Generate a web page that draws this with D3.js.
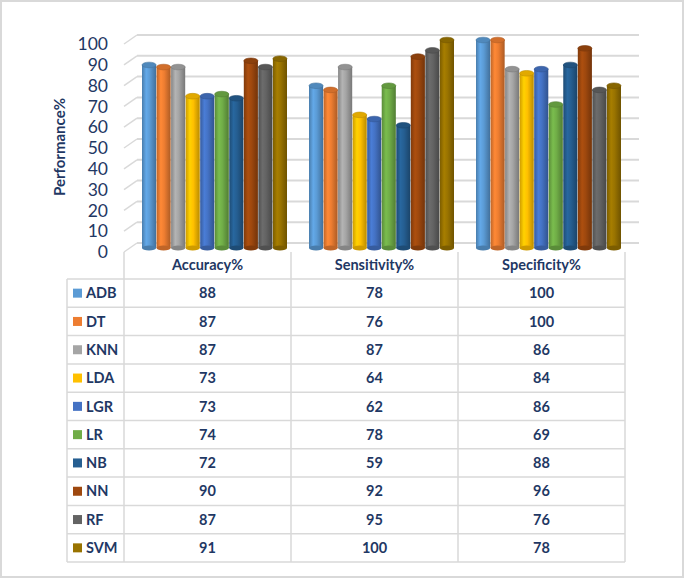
<!DOCTYPE html>
<html>
<head>
<meta charset="utf-8">
<script src="https://cdnjs.cloudflare.com/ajax/libs/d3/7.8.5/d3.min.js"></script>
<style>
    body { margin: 0; background: #fff; }
    text { font-family: Lato, "Open Sans", sans-serif; }
</style>
</head>
<body>
<div id="chart-area"></div>
<script>

var models = ["ADB", "DT", "KNN", "LDA", "LGR", "LR", "NB", "NN", "RF", "SVM"];
var metrics = ["Accuracy%", "Sensitivity%", "Specificity%"];
var accuracy = [88, 87, 87, 73, 73, 74, 72, 90, 87, 91];
var sensitivity = [78, 76, 87, 64, 62, 78, 59, 92, 95, 100];
var specificity = [100, 100, 86, 84, 86, 69, 88, 96, 76, 78];
var modelColors = ["#5B9BD5", "#ED7D31", "#A5A5A5", "#FFC000", "#4472C4",
                   "#70AD47", "#255E91", "#9E480E", "#636363", "#997300"];
var yTicks = [0, 10, 20, 30, 40, 50, 60, 70, 80, 90, 100];


PerfChart = function(_parentElement) {
    this.parentElement = _parentElement;
    this.initVis();
};

PerfChart.prototype.initVis = function() {
    var vis = this;

    vis.width = 685;
    vis.height = 579;
    vis.navy = "#1F3864";
    vis.lineColor = "#D9D9D9";

    vis.svg = d3.select("#" + vis.parentElement).append("svg")
        .attr("width", vis.width)
        .attr("height", vis.height);

    // outer frame
    vis.svg.append("rect")
        .attr("x", 1).attr("y", 1)
        .attr("width", vis.width - 3).attr("height", vis.height - 3)
        .attr("fill", "#fff")
        .attr("stroke", "#D9D9D9")
        .attr("stroke-width", 2);

    // category columns (shared by bars + table)
    vis.x0 = d3.scaleBand().domain(metrics).range([124, 625]);
    vis.x1 = d3.scaleBand().domain(models).range([18, 163]).paddingInner(0.03);

    // 3D depth: front/back of the wall, bars sit in the middle
    vis.depthX = 13;
    vis.depthY = 9;
    vis.yFront = d3.scaleLinear().domain([0, 100]).range([252, 44]);
    vis.yBack = d3.scaleLinear().domain([0, 100]).range([243, 35]);
    vis.y = d3.scaleLinear().domain([0, 100]).range([248, 40]);

    vis.rowY = d3.scaleBand().domain(models).range([279, 562]);

    vis.updateVis();
};

PerfChart.prototype.updateVis = function() {
    var vis = this;

    var values = [accuracy, sensitivity, specificity];

    // gradients for the cylinders
    var defs = vis.svg.append("defs");
    modelColors.forEach(function(c, i) {
        var g = defs.append("linearGradient")
            .attr("id", "cyl" + i)
            .attr("x1", "0%").attr("x2", "100%")
            .attr("y1", "0%").attr("y2", "0%");
        g.append("stop").attr("offset", "0%").attr("stop-color", d3.color(c).darker(0.6));
        g.append("stop").attr("offset", "30%").attr("stop-color", d3.color(c).brighter(0.25));
        g.append("stop").attr("offset", "55%").attr("stop-color", c);
        g.append("stop").attr("offset", "100%").attr("stop-color", d3.color(c).darker(0.9));
    });

    // gridlines: diagonal from front edge to back wall, then across the wall
    var grid = vis.svg.append("g").attr("class", "grid");
    grid.selectAll(".diag")
        .data(yTicks)
        .enter().append("line")
        .attr("x1", 124).attr("y1", function(d) { return vis.yFront(d); })
        .attr("x2", 124 + vis.depthX).attr("y2", function(d) { return vis.yBack(d); })
        .attr("stroke", vis.lineColor).attr("stroke-width", 1.5);
    grid.selectAll(".back")
        .data(yTicks)
        .enter().append("line")
        .attr("x1", 124 + vis.depthX).attr("y1", function(d) { return vis.yBack(d); })
        .attr("x2", 639).attr("y2", function(d) { return vis.yBack(d); })
        .attr("stroke", vis.lineColor).attr("stroke-width", 2);

    // tick labels
    vis.svg.append("g").selectAll("text")
        .data(yTicks)
        .enter().append("text")
        .attr("x", 108)
        .attr("y", function(d) { return vis.yFront(d); })
        .attr("dy", "0.35em")
        .attr("text-anchor", "end")
        .attr("font-size", 17.5)
        .attr("fill", vis.navy)
        .text(function(d) { return d; });

    vis.svg.append("text")
        .attr("transform", "translate(65,147) rotate(-90)")
        .attr("text-anchor", "middle")
        .attr("font-size", 15)
        .attr("font-weight", "bold")
        .attr("fill", vis.navy)
        .text("Performance%");

    // cylinders
    metrics.forEach(function(m, mi) {
        var group = vis.svg.append("g")
            .attr("transform", "translate(" + vis.x0(m) + ",0)");
        var bw = vis.x1.bandwidth();
        var bars = group.selectAll(".bar")
            .data(values[mi])
            .enter().append("g");

        bars.append("rect")
            .attr("x", function(d, i) { return vis.x1(models[i]); })
            .attr("y", function(d) { return vis.y(d); })
            .attr("width", bw)
            .attr("height", function(d) { return vis.y(0) - vis.y(d); })
            .attr("fill", function(d, i) { return "url(#cyl" + i + ")"; });

        bars.append("ellipse")
            .attr("cx", function(d, i) { return vis.x1(models[i]) + bw / 2; })
            .attr("cy", vis.y(0))
            .attr("rx", bw / 2).attr("ry", 2.5)
            .attr("fill", function(d, i) { return d3.color(modelColors[i]).darker(0.6); });

        bars.append("ellipse")
            .attr("cx", function(d, i) { return vis.x1(models[i]) + bw / 2; })
            .attr("cy", function(d) { return vis.y(d); })
            .attr("rx", bw / 2).attr("ry", 2.8)
            .attr("fill", function(d, i) { return d3.color(modelColors[i]).darker(0.35); })
            .attr("stroke", function(d, i) { return d3.color(modelColors[i]).darker(0.8); })
            .attr("stroke-width", 0.6);
    });

    // data table
    var table = vis.svg.append("g").attr("class", "table");
    var rowH = vis.rowY.bandwidth();

    table.selectAll(".vline")
        .data([124, 291, 458, 625])
        .enter().append("line")
        .attr("x1", function(d, i) { return i == 0 ? vis.x0.range()[0] : vis.x0(metrics[i - 1]) + vis.x0.bandwidth(); })
        .attr("x2", function(d, i) { return i == 0 ? vis.x0.range()[0] : vis.x0(metrics[i - 1]) + vis.x0.bandwidth(); })
        .attr("y1", 252).attr("y2", 562)
        .attr("stroke", vis.lineColor).attr("stroke-width", 1.5);

    table.append("line")
        .attr("x1", 67).attr("x2", 67)
        .attr("y1", 279).attr("y2", 562)
        .attr("stroke", vis.lineColor).attr("stroke-width", 1.5);

    table.selectAll(".hline")
        .data(models.concat(["end"]))
        .enter().append("line")
        .attr("x1", 67).attr("x2", 625)
        .attr("y1", function(d, i) { return 279 + i * rowH; })
        .attr("y2", function(d, i) { return 279 + i * rowH; })
        .attr("stroke", vis.lineColor).attr("stroke-width", 1.5);

    table.selectAll(".head")
        .data(metrics)
        .enter().append("text")
        .attr("x", function(d) { return vis.x0(d) + vis.x0.bandwidth() / 2; })
        .attr("y", 270)
        .attr("text-anchor", "middle")
        .attr("font-size", 14.5)
        .attr("font-weight", "bold")
        .attr("fill", vis.navy)
        .text(function(d) { return d; });

    table.selectAll(".key")
        .data(models)
        .enter().append("rect")
        .attr("x", 73)
        .attr("y", function(d) { return vis.rowY(d) + rowH / 2 - 4.5; })
        .attr("width", 9).attr("height", 9)
        .attr("fill", function(d, i) { return modelColors[i]; });

    table.selectAll(".name")
        .data(models)
        .enter().append("text")
        .attr("x", 86)
        .attr("y", function(d) { return vis.rowY(d) + rowH / 2; })
        .attr("dy", "0.36em")
        .attr("font-size", 14.5)
        .attr("font-weight", "bold")
        .attr("fill", vis.navy)
        .text(function(d) { return d; });

    metrics.forEach(function(m, mi) {
        table.selectAll(".val" + mi)
            .data(values[mi])
            .enter().append("text")
            .attr("x", vis.x0(m) + vis.x0.bandwidth() / 2)
            .attr("y", function(d, i) { return vis.rowY(models[i]) + rowH / 2; })
            .attr("dy", "0.36em")
            .attr("text-anchor", "middle")
            .attr("font-size", 14.5)
            .attr("font-weight", "bold")
            .attr("fill", vis.navy)
            .text(function(d) { return d; });
    });
};

var perfChart = new PerfChart("chart-area");

</script>
</body>
</html>
